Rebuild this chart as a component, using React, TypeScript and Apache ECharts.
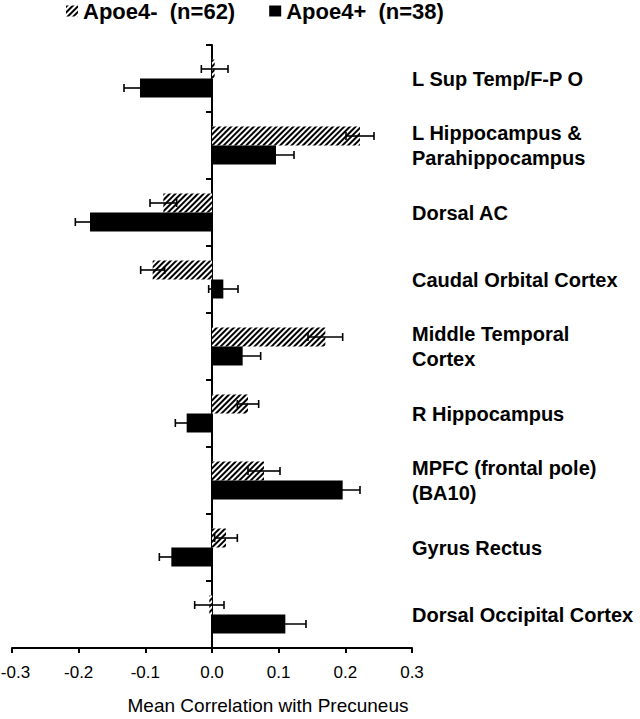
import React, { useEffect, useRef } from "react";
import * as echarts from "echarts";

const categories = [
  "L Sup Temp/F-P O",
  "L Hippocampus &\nParahippocampus",
  "Dorsal AC",
  "Caudal Orbital Cortex",
  "Middle Temporal\nCortex",
  "R Hippocampus",
  "MPFC (frontal pole)\n(BA10)",
  "Gyrus Rectus",
  "Dorsal Occipital Cortex",
];
const seriesNames = ["Apoe4-  (n=62)", "Apoe4+  (n=38)"];
const apoeNeg = [0.004, 0.222, -0.073, -0.089, 0.17, 0.054, 0.078, 0.021, -0.004];
const apoeNegErr = [0.02, 0.021, 0.02, 0.018, 0.026, 0.016, 0.024, 0.017, 0.022];
const apoePos = [-0.108, 0.096, -0.183, 0.017, 0.046, -0.038, 0.196, -0.061, 0.11];
const apoePosErr = [0.024, 0.027, 0.022, 0.022, 0.027, 0.017, 0.026, 0.018, 0.031];
const xMin = -0.3;
const xMax = 0.3;
const xStep = 0.1;
const axisTitle = "Mean Correlation with Precuneus";

export default function App() {
  const ref = useRef<HTMLDivElement>(null);
  useEffect(() => {
    const chart = echarts.init(ref.current!, null, { renderer: "svg" });
    const font = "'Liberation Sans', Arial, Helvetica, sans-serif";
    const barW = 19;
    const hatch = {
      symbol: "rect",
      symbolSize: 1,
      color: "#000",
      backgroundColor: "#fff",
      dashArrayX: [1, 0],
      dashArrayY: [1.5, 1.5],
      rotation: -Math.PI / 4,
    };
    const errRender = (sign: number) => (params: any, api: any) => {
      const cat = api.value(0);
      const v = api.value(1);
      const e = api.value(2);
      const a = api.coord([v - e, cat]);
      const b = api.coord([v + e, cat]);
      const y = a[1] + (sign * barW) / 2;
      const cap = 4;
      const st = { stroke: "#000", lineWidth: 1.6 };
      return {
        type: "group",
        children: [
          { type: "line", shape: { x1: a[0], y1: y, x2: b[0], y2: y }, style: st },
          { type: "line", shape: { x1: a[0], y1: y - cap, x2: a[0], y2: y + cap }, style: st },
          { type: "line", shape: { x1: b[0], y1: y - cap, x2: b[0], y2: y + cap }, style: st },
        ],
      };
    };
    chart.setOption({
      animation: false,
      backgroundColor: "#fff",
      textStyle: { fontFamily: font },
      legend: {
        left: 66,
        top: 0,
        padding: 0,
        itemWidth: 12,
        itemHeight: 11,
        itemGap: 34,
        textStyle: { fontSize: 22, fontWeight: "bold", color: "#000", fontFamily: font },
        data: [
          { name: seriesNames[0], icon: "rect" },
          { name: seriesNames[1], icon: "rect" },
        ],
      },
      grid: { left: 12, right: 228, top: 45, bottom: 71, containLabel: false, outerBoundsMode: "none" },
      xAxis: {
        type: "value",
        position: "bottom",
        min: xMin,
        max: xMax,
        interval: xStep,
        splitLine: { show: false },
        axisLine: { show: true, onZero: false, lineStyle: { color: "#000", width: 2, type: "solid" } },
        axisTick: { show: true, inside: false, length: 5, lineStyle: { color: "#000", width: 2 } },
        axisLabel: {
          color: "#000",
          fontSize: 17,
          margin: 16,
          fontFamily: font,
          formatter: (v: number) => (Math.abs(v - xMin) < 1e-9 ? "{m|" + v.toFixed(1) + "}" : v.toFixed(1)),
          rich: {
            m: { fontSize: 17, color: "#000", fontFamily: font, padding: [0, 0, 0, 7] },
          },
        },
        name: axisTitle,
        nameLocation: "middle",
        nameGap: 48,
        nameTextStyle: { color: "#000", fontSize: 19, fontFamily: font, padding: [0, 0, 0, 112] },
      },
      yAxis: [
        {
          type: "category",
          data: categories,
          inverse: true,
          axisLine: { show: true, onZero: true, lineStyle: { color: "#000", width: 2 } },
          axisTick: { show: true, length: 6, lineStyle: { color: "#000", width: 2 } },
          axisLabel: { show: false },
        },
        {
          type: "category",
          data: categories,
          inverse: true,
          position: "right",
          axisLine: { show: false, onZero: false },
          axisTick: { show: false },
          axisLabel: {
            show: true,
            margin: 0,
            align: "left",
            color: "#000",
            fontSize: 20,
            fontWeight: "bold",
            lineHeight: 25,
            fontFamily: font,
            padding: [4, 0, 0, 0],
          },
        },
      ],
      series: [
        {
          name: seriesNames[0],
          type: "bar",
          data: apoeNeg,
          barWidth: barW,
          barGap: "0%",
          itemStyle: { color: "#fff", decal: hatch },
        },
        {
          name: seriesNames[1],
          type: "bar",
          data: apoePos,
          barWidth: barW,
          barGap: "0%",
          itemStyle: { color: "#000" },
        },
        {
          type: "custom",
          renderItem: errRender(-1),
          encode: { x: 1, y: 0 },
          data: apoeNeg.map((v, i) => [i, v, apoeNegErr[i]]),
          z: 5,
          silent: true,
        },
        {
          type: "custom",
          renderItem: errRender(1),
          encode: { x: 1, y: 0 },
          data: apoePos.map((v, i) => [i, v, apoePosErr[i]]),
          z: 5,
          silent: true,
        },
      ],
    });
    return () => chart.dispose();
  }, []);
  return <div ref={ref} style={{ position: "absolute", left: 0, top: 0, width: 640, height: 719 }} />;
}
